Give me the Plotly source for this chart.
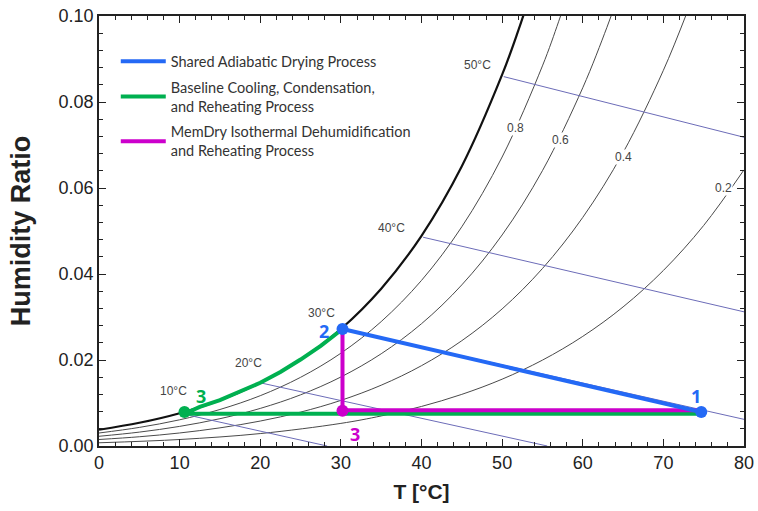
import plotly.graph_objects as go

# ---- data ----
T_curve = [0, 5, 10, 15, 20, 25, 30, 35, 40, 45, 50, 52, 53]
W_sat = [0.00378, 0.00540, 0.00763, 0.01065, 0.01470, 0.02009, 0.02721, 0.03659, 0.04889, 0.06506, 0.08635, 0.09659, 0.10221]

T_rh80 = [0, 5, 10, 15, 20, 25, 30, 35, 40, 45, 50, 55, 57, 58]
W_rh80 = [0.00302, 0.00432, 0.00609, 0.00849, 0.01170, 0.01597, 0.02158, 0.02893, 0.03851, 0.05098, 0.06721, 0.08840, 0.09865, 0.10420]

T_rh60 = [0, 5, 10, 15, 20, 25, 30, 35, 40, 45, 50, 55, 60, 63, 64]
W_rh60 = [0.00226, 0.00323, 0.00456, 0.00635, 0.00874, 0.01190, 0.01605, 0.02145, 0.02844, 0.03747, 0.04908, 0.06403, 0.08331, 0.09738, 0.10259]

T_rh40 = [0, 5, 10, 15, 20, 25, 30, 35, 40, 45, 50, 55, 60, 65, 70, 73]
W_rh40 = [0.00151, 0.00215, 0.00303, 0.00422, 0.00580, 0.00788, 0.01061, 0.01414, 0.01868, 0.02449, 0.03188, 0.04127, 0.05316, 0.06823, 0.08737, 0.10114]

T_rh20 = [0, 10, 20, 30, 35, 40, 45, 50, 55, 60, 65, 70, 75, 80]
W_rh20 = [0.00075, 0.00151, 0.00289, 0.00526, 0.00699, 0.00920, 0.01201, 0.01554, 0.01997, 0.02549, 0.03234, 0.04082, 0.05129, 0.06422]

rh_labels = ["0.8", "0.6", "0.4", "0.2"]
rh_label_T = [51.7, 57.2, 65.1, 77.4]
rh_label_W = [0.0740, 0.0712, 0.0672, 0.0599]

# wet-bulb (adiabatic) lines: start / end points
wb_names = ["10°C", "20°C", "30°C", "40°C", "50°C"]
wb_T0 = [10.0, 20.0, 30.2, 40.2, 50.2]
wb_W0 = [0.00763, 0.01470, 0.02721, 0.04855, 0.08590]
wb_T1 = [28.3, 55.6, 80.0, 80.0, 80.0]
wb_W1 = [0.0, 0.0, 0.0062, 0.0312, 0.0718]
wb_label_T = [9.2, 18.6, 27.6, 36.3, 47.0]
wb_label_W = [0.0127, 0.0194, 0.0310, 0.0508, 0.0887]

# process states
T_state = [74.7, 30.2, 10.6, 30.2]      # 1, 2, 3 (baseline), 3 (MemDry)
W_state = [0.0079, 0.0272, 0.0079, 0.0082]

# baseline cooling along saturation
T_green_sat = [30.2, 27.5, 25, 22.5, 20, 17.5, 15, 12.5, 10.6]
W_green_sat = [0.0272, 0.0233, 0.0201, 0.0172, 0.0147, 0.0126, 0.01065, 0.0091, 0.0079]
W_green_line = 0.0075
W_mag_line = 0.0083

BLUE = "#2469F5"
GREEN = "#00B050"
MAGENTA = "#CC00CC"
WB = "#6C6CB8"
RH = "#4a4a4a"

fig = go.Figure()

for Tc, Wc in [(T_rh80, W_rh80), (T_rh60, W_rh60), (T_rh40, W_rh40), (T_rh20, W_rh20)]:
    fig.add_trace(go.Scatter(x=Tc, y=Wc, mode="lines", line=dict(color=RH, width=1, shape="spline"),
                             showlegend=False, hoverinfo="skip"))

for i in range(len(wb_names)):
    fig.add_trace(go.Scatter(x=[wb_T0[i], wb_T1[i]], y=[wb_W0[i], wb_W1[i]], mode="lines",
                             line=dict(color=WB, width=1), showlegend=False, hoverinfo="skip"))

fig.add_trace(go.Scatter(x=T_curve, y=W_sat, mode="lines", line=dict(color="#111", width=2.2, shape="spline"),
                         showlegend=False, hoverinfo="skip"))

# green baseline
fig.add_trace(go.Scatter(x=T_green_sat + [T_state[0]], y=W_green_sat[:-1] + [W_green_line, W_green_line],
                         mode="lines", line=dict(color=GREEN, width=4),
                         name="Baseline Cooling, Condensation,<br>and Reheating Process",
                         legendrank=2, legendgroup="g"))
# magenta
fig.add_trace(go.Scatter(x=[T_state[1], T_state[3], T_state[0]], y=[W_state[1], W_mag_line, W_mag_line],
                         mode="lines", line=dict(color=MAGENTA, width=4),
                         name="MemDry Isothermal Dehumidification<br>and Reheating Process",
                         legendrank=3, legendgroup="m"))
# blue
fig.add_trace(go.Scatter(x=[T_state[1], T_state[0]], y=[W_state[1], W_state[0]],
                         mode="lines", line=dict(color=BLUE, width=4),
                         name="Shared Adiabatic Drying Process", legendrank=1, legendgroup="b"))

# markers
fig.add_trace(go.Scatter(x=[T_state[0], T_state[1]], y=[W_state[0], W_state[1]], mode="markers",
                         marker=dict(color=BLUE, size=12), showlegend=False))
fig.add_trace(go.Scatter(x=[T_state[2]], y=[W_state[2]], mode="markers",
                         marker=dict(color=GREEN, size=12), showlegend=False))
fig.add_trace(go.Scatter(x=[T_state[3]], y=[W_state[3]], mode="markers",
                         marker=dict(color=MAGENTA, size=12), showlegend=False))

ann = []
for lab, x, y in zip(rh_labels, rh_label_T, rh_label_W):
    ann.append(dict(x=x, y=y, text=lab, showarrow=False, bgcolor="white", borderpad=0,
                    font=dict(family="Liberation Sans", size=12, color="#444")))
for lab, x, y in zip(wb_names, wb_label_T, wb_label_W):
    ann.append(dict(x=x, y=y, text=lab, showarrow=False,
                    font=dict(family="Liberation Sans", size=12, color="#444")))
pt_font = dict(family="Open Sans", size=18)
ann += [
    dict(x=74.0, y=0.0117, text="<b>1</b>", showarrow=False, font=dict(pt_font, color=BLUE)),
    dict(x=27.9, y=0.0268, text="<b>2</b>", showarrow=False, font=dict(pt_font, color=BLUE)),
    dict(x=12.6, y=0.0117, text="<b>3</b>", showarrow=False, font=dict(pt_font, color=GREEN)),
    dict(x=31.7, y=0.0027, text="<b>3</b>", showarrow=False, font=dict(pt_font, color=MAGENTA)),
]

axis_common = dict(showgrid=False, zeroline=False, showline=True, linecolor="#222", linewidth=1.5,
                   mirror="ticks", ticks="inside", ticklen=7, tickcolor="#222", automargin=False,
                   tickfont=dict(family="Liberation Sans", size=18, color="#222"))

fig.update_layout(
    width=758, height=511, plot_bgcolor="white", paper_bgcolor="white",
    margin=dict(l=99, r=14, t=16, b=65),
    xaxis=dict(axis_common, range=[0, 80], dtick=10, tick0=0,
               minor=dict(dtick=2, ticks="inside", ticklen=4, tickcolor="#222"),
               title=dict(text="<b>T [°C]</b>", font=dict(family="Liberation Sans", size=21, color="#222"), standoff=12)),
    yaxis=dict(axis_common, range=[0, 0.1], dtick=0.02, tickformat=".2f",
               minor=dict(dtick=0.004, ticks="inside", ticklen=4, tickcolor="#222"),
               title=dict(text="<b>Humidity Ratio</b>", font=dict(family="Liberation Sans", size=27, color="#222"), standoff=20)),
    legend=dict(x=0.026, y=0.932, xanchor="left", yanchor="top", bgcolor="rgba(255,255,255,0)",
                font=dict(family="Lato", size=14.5, color="#333"), traceorder="grouped", tracegroupgap=4,
                itemwidth=45),
    annotations=ann,
)

fig.write_html("out.html")
